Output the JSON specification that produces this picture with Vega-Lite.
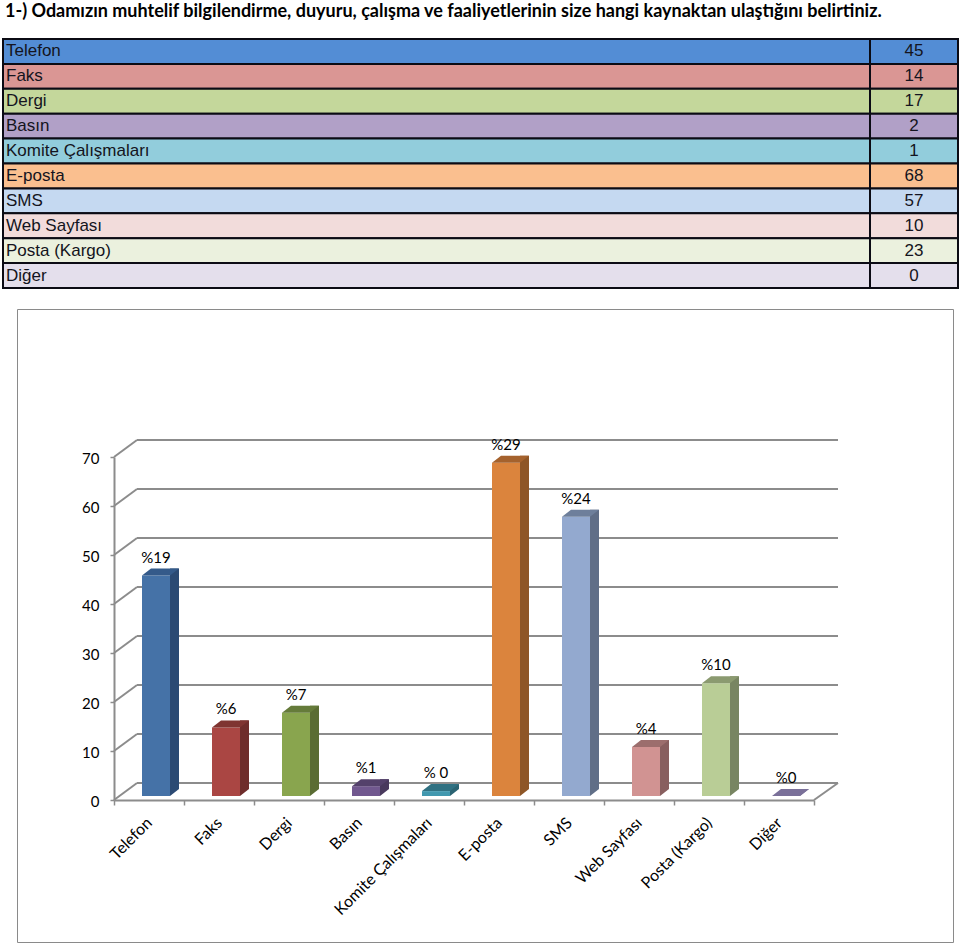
{
"$schema":"https://vega.github.io/schema/vega-lite/v6.json",
"padding":{"left":2,"top":3,"right":0,"bottom":0},
"background":"white",
"title":{"text":"1-) Odamızın muhtelif  bilgilendirme, duyuru, çalışma ve faaliyetlerinin size hangi kaynaktan ulaştığını belirtiniz.","anchor":"start","font":"Lato","fontSize":18,"fontWeight":"bold","color":"#000","offset":17,"dx":2,"frame":"group"},
"datasets":{
"veri":[
{"ad":"Telefon","sayi":45,"yuzde":"%19"},
{"ad":"Faks","sayi":14,"yuzde":"%6"},
{"ad":"Dergi","sayi":17,"yuzde":"%7"},
{"ad":"Basın","sayi":2,"yuzde":"%1"},
{"ad":"Komite Çalışmaları","sayi":1,"yuzde":"% 0"},
{"ad":"E-posta","sayi":68,"yuzde":"%29"},
{"ad":"SMS","sayi":57,"yuzde":"%24"},
{"ad":"Web Sayfası","sayi":10,"yuzde":"%4"},
{"ad":"Posta (Kargo)","sayi":23,"yuzde":"%10"},
{"ad":"Diğer","sayi":0,"yuzde":"%0"}
],
"izgara":[{"deger":0},{"deger":10},{"deger":20},{"deger":30},{"deger":40},{"deger":50},{"deger":60},{"deger":70}]
},
"spacing":19,
"vconcat":[
{"width":955,"height":249,"view":{"stroke":null},"data":{"name":"veri"},
"layer":[
{"mark":{"type":"rect","stroke":"#0b0b14","strokeWidth":2},
"encoding":{
"x":{"datum":0,"type":"quantitative","scale":{"domain":[0,955],"nice":false},"axis":null},
"x2":{"datum":867},
"y":{"field":"ad","type":"nominal","sort":null,"axis":null,"scale":{"paddingInner":0,"paddingOuter":0}},
"fill":{"field":"ad","type":"nominal","sort":null,"legend":null,"scale":{"domain":["Telefon","Faks","Dergi","Basın","Komite Çalışmaları","E-posta","SMS","Web Sayfası","Posta (Kargo)","Diğer"],"range":["#538DD5","#DA9694","#C4D79B","#B1A0C7","#92CDDC","#FABF8F","#C5D9F1","#F2DCDB","#EBF1DE","#E4DFEC"]}}}},
{"mark":{"type":"rect","stroke":"#0b0b14","strokeWidth":2},
"encoding":{
"x":{"datum":867,"type":"quantitative"},
"x2":{"datum":955},
"y":{"field":"ad","type":"nominal","sort":null,"axis":null},
"fill":{"field":"ad","type":"nominal","sort":null,"legend":null}}},
{"mark":{"type":"text","align":"left","baseline":"middle","font":"Liberation Sans","fontSize":17,"xOffset":3,"color":"#141420"},
"encoding":{
"x":{"datum":0,"type":"quantitative"},
"y":{"field":"ad","type":"nominal","sort":null,"axis":null},
"text":{"field":"ad"}}},
{"mark":{"type":"text","align":"center","baseline":"middle","font":"Liberation Sans","fontSize":17,"color":"#141420"},
"encoding":{
"x":{"datum":911,"type":"quantitative"},
"y":{"field":"ad","type":"nominal","sort":null,"axis":null},
"text":{"field":"sayi","type":"quantitative"}}}
]},
{"spacing":0,"hconcat":[
{"width":7,"height":633,"view":{"stroke":null},"data":{"values":[{"bos":""}]},"mark":{"type":"text"},"encoding":{"text":{"field":"bos"}}},
{"width":936,"height":633,
"view":{"stroke":"#8a8a8a","strokeWidth":1,"fill":"white"},
"resolve":{"scale":{"fill":"independent"}},
"layer":[
{"data":{"name":"izgara"},"mark":{"type":"rule","color":"#8c8c8c","strokeWidth":2,"xOffset":-12,"x2Offset":59,"yOffset":-17},
"encoding":{
"x":{"datum":"Telefon","type":"nominal","scale":{"domain":["Telefon","Faks","Dergi","Basın","Komite Çalışmaları","E-posta","SMS","Web Sayfası","Posta (Kargo)","Diğer"],"range":[97,797],"paddingInner":0,"paddingOuter":0},
"axis":{"title":null,"offset":-142,"tickBand":"extent","labelAngle":-45,"labelAlign":"right","labelBaseline":"middle","labelFont":"Lato","labelFontSize":16,"labelColor":"#000","labelPadding":15,"tickSize":5,"tickColor":"#8c8c8c","domainColor":"#8c8c8c","domainWidth":2,"tickWidth":1.5,"labelOverlap":false}},
"x2":{"datum":"Diğer"},
"y":{"field":"deger","type":"quantitative","scale":{"domain":[0,70],"range":[491,148],"nice":false},
"axis":{"title":null,"offset":-97,"values":[0,10,20,30,40,50,60,70],"grid":false,"labelFont":"Lato","labelFontSize":15,"labelColor":"#000","labelPadding":11,"labelOffset":1,"tickSize":4,"tickColor":"#8c8c8c","domainColor":"#8c8c8c","domainWidth":2,"tickWidth":1.5}}}},
{"data":{"name":"izgara"},"mark":{"type":"point","shape":"M-35,0L-12,-17","size":4,"filled":false,"stroke":"#8c8c8c","strokeWidth":2,"opacity":1},
"encoding":{
"x":{"datum":"Telefon","type":"nominal"},
"y":{"field":"deger","type":"quantitative"}}},
{"data":{"values":[{"deger":0}]},"mark":{"type":"point","shape":"M35,0L59,-17","size":4,"filled":false,"stroke":"#8c8c8c","strokeWidth":2,"opacity":1},
"encoding":{
"x":{"datum":"Diğer","type":"nominal"},
"y":{"field":"deger","type":"quantitative"}}},
{"data":{"name":"veri"},"mark":{"type":"bar","width":9,"xOffset":25.5,"yOffset":-11,"y2Offset":-4},
"encoding":{
"x":{"field":"ad","type":"nominal","sort":null},
"y":{"field":"sayi","type":"quantitative","stack":null},
"y2":{"datum":0},
"fill":{"field":"ad","type":"nominal","sort":null,"legend":null,"scale":{"domain":["Telefon","Faks","Dergi","Basın","Komite Çalışmaları","E-posta","SMS","Web Sayfası","Posta (Kargo)","Diğer"],"range":["#2B4A73","#6E2D2B","#5A6C33","#49395D","#2A6372","#8E5627","#606E87","#885F5F","#788562","#7A7099"]}}}},
{"data":{"name":"veri"},"mark":{"type":"point","shape":"M21,-4L30,-4L30,-11Z","size":4,"filled":true,"fill":"white","opacity":1},
"encoding":{
"x":{"field":"ad","type":"nominal","sort":null},
"y":{"datum":0,"type":"quantitative"}}},
{"data":{"name":"veri"},"mark":{"type":"bar","width":28,"xOffset":7,"yOffset":-4,"y2Offset":-4},
"encoding":{
"x":{"field":"ad","type":"nominal","sort":null},
"y":{"field":"sayi","type":"quantitative","stack":null},
"y2":{"datum":0},
"fill":{"field":"ad","type":"nominal","sort":null,"legend":null,"scale":{"domain":["Telefon","Faks","Dergi","Basın","Komite Çalışmaları","E-posta","SMS","Web Sayfası","Posta (Kargo)","Diğer"],"range":["#4572A7","#AA4643","#89A54E","#71588F","#4198AF","#DB843D","#93A9CF","#D19392","#B9CD96","#A99BBD"]}}}},
{"data":{"name":"veri"},"mark":{"type":"point","shape":"M-7,-4L21,-4L30,-11L2,-11Z","size":4,"filled":true,"opacity":1},
"encoding":{
"x":{"field":"ad","type":"nominal","sort":null},
"y":{"field":"sayi","type":"quantitative"},
"fill":{"field":"ad","type":"nominal","sort":null,"legend":null,"scale":{"domain":["Telefon","Faks","Dergi","Basın","Komite Çalışmaları","E-posta","SMS","Web Sayfası","Posta (Kargo)","Diğer"],"range":["#345A8A","#7F3431","#657B3A","#54416B","#307182","#A5622D","#6E7F9B","#9C6E6D","#8B9A70","#7A7099"]}}}},
{"data":{"name":"veri"},"mark":{"type":"text","font":"Lato","fontSize":15,"color":"#000","xOffset":7,"yOffset":-22,"baseline":"middle"},
"encoding":{
"x":{"field":"ad","type":"nominal","sort":null},
"y":{"field":"sayi","type":"quantitative"},
"text":{"field":"yuzde"}}}
]}
]}
]
}
